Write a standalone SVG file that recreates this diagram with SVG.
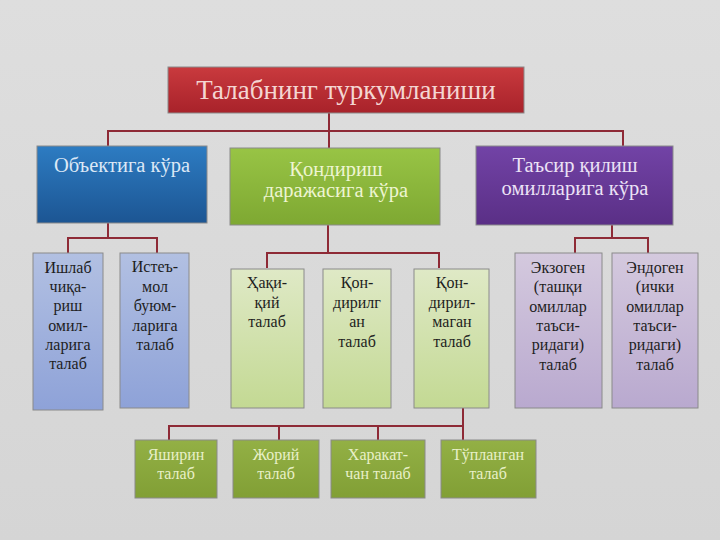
<svg xmlns="http://www.w3.org/2000/svg" width="720" height="540" viewBox="0 0 720 540">
<defs>
<linearGradient id="bg" x1="0" y1="0" x2="0" y2="1"><stop offset="0" stop-color="#dedede"/><stop offset="1" stop-color="#d5d5d5"/></linearGradient>
<linearGradient id="gRed" x1="0" y1="0" x2="0" y2="1"><stop offset="0" stop-color="#c93a3e"/><stop offset="1" stop-color="#a8222a"/></linearGradient>
<linearGradient id="gBlue" x1="0" y1="0" x2="0" y2="1"><stop offset="0" stop-color="#2d7cc2"/><stop offset="1" stop-color="#1c5593"/></linearGradient>
<linearGradient id="gGreen" x1="0" y1="0" x2="0" y2="1"><stop offset="0" stop-color="#98c445"/><stop offset="1" stop-color="#7ea832"/></linearGradient>
<linearGradient id="gPurple" x1="0" y1="0" x2="0" y2="1"><stop offset="0" stop-color="#7243a6"/><stop offset="1" stop-color="#5a2f86"/></linearGradient>
<linearGradient id="lBlue" x1="0" y1="0" x2="0" y2="1"><stop offset="0" stop-color="#b2c0e2"/><stop offset="1" stop-color="#8ea2d8"/></linearGradient>
<linearGradient id="lGreen" x1="0" y1="0" x2="0" y2="1"><stop offset="0" stop-color="#dfe9c6"/><stop offset="1" stop-color="#c3d993"/></linearGradient>
<linearGradient id="lPurple" x1="0" y1="0" x2="0" y2="1"><stop offset="0" stop-color="#d4c9de"/><stop offset="1" stop-color="#b9a9cf"/></linearGradient>
<linearGradient id="bGreen" x1="0" y1="0" x2="0" y2="1"><stop offset="0" stop-color="#93b045"/><stop offset="1" stop-color="#819f35"/></linearGradient>
</defs>
<style>
.box{stroke:#8a8a8a;stroke-width:1}
.hdr{font-family:"Liberation Serif","DejaVu Serif",serif;font-size:20.5px;text-anchor:middle}
.leaf{font-family:"Liberation Serif","DejaVu Serif",serif;font-size:16px;fill:#1e1e1e;text-anchor:middle}
.bot{font-family:"Liberation Serif","DejaVu Serif",serif;font-size:16px;fill:#e8f0c8;text-anchor:middle}
.con{fill:none;stroke:#8e2a36;stroke-width:2}
</style>
<rect width="720" height="540" fill="url(#bg)"/>

<g id="connectors">
<path class="con" d="M329 113V148M108 146V131H623V146"/>
<path class="con" d="M108 223V238M68 253V238H157V253"/>
<path class="con" d="M328 225V253M267 268V253H439V268"/>
<path class="con" d="M612 225V238M575 253V238H648V253"/>
<path class="con" d="M463 408V440M169 440V426H463M279 426V440M378 426V440"/>
</g>

<g id="title">
<rect class="box" x="168" y="67" width="356" height="46" fill="url(#gRed)"/>
<text x="346" y="99" class="hdr" font-size="27" fill="#f4d6d2" style="font-size:27px">Талабнинг туркумланиши</text>
</g>

<g id="cat-object">
<rect class="box" x="37" y="146" width="170" height="77" fill="url(#gBlue)"/>
<text x="122" y="172" class="hdr" fill="#dce8f6">Объектига кўра</text>
</g>
<g id="cat-level">
<rect class="box" x="230" y="148" width="210" height="77" fill="url(#gGreen)"/>
<text x="336" y="176" class="hdr" fill="#eef5d2">Қондириш</text>
<text x="336" y="197" class="hdr" fill="#eef5d2">даражасига кўра</text>
</g>
<g id="cat-factors">
<rect class="box" x="476" y="146" width="197" height="79" fill="url(#gPurple)"/>
<text x="575" y="172" class="hdr" fill="#ece2f6">Таъсир қилиш</text>
<text x="575" y="195" class="hdr" fill="#ece2f6">омилларига кўра</text>
</g>

<g id="leaf-production">
<rect class="box" x="33" y="253" width="70" height="157" fill="url(#lBlue)"/>
<text class="leaf" x="68"><tspan x="68" y="273">Ишлаб</tspan><tspan x="68" y="292">чиқа-</tspan><tspan x="68" y="311">риш</tspan><tspan x="68" y="331">омил-</tspan><tspan x="68" y="350">ларига</tspan><tspan x="68" y="369">талаб</tspan></text>
</g>
<g id="leaf-consumer">
<rect class="box" x="120" y="253" width="69" height="155" fill="url(#lBlue)"/>
<text class="leaf" x="155"><tspan x="155" y="272">Истеъ-</tspan><tspan x="155" y="292">мол</tspan><tspan x="155" y="311">буюм-</tspan><tspan x="155" y="331">ларига</tspan><tspan x="155" y="350">талаб</tspan></text>
</g>

<g id="leaf-real">
<rect class="box" x="231" y="269" width="73" height="139" fill="url(#lGreen)"/>
<text class="leaf" x="267"><tspan x="267" y="288">Ҳақи-</tspan><tspan x="267" y="308">қий</tspan><tspan x="267" y="327">талаб</tspan></text>
</g>
<g id="leaf-satisfied">
<rect class="box" x="323" y="269" width="68" height="139" fill="url(#lGreen)"/>
<text class="leaf" x="357"><tspan x="357" y="288">Қон-</tspan><tspan x="357" y="308">дирилг</tspan><tspan x="357" y="327">ан</tspan><tspan x="357" y="347">талаб</tspan></text>
</g>
<g id="leaf-unsatisfied">
<rect class="box" x="414" y="269" width="75" height="139" fill="url(#lGreen)"/>
<text class="leaf" x="452"><tspan x="452" y="288">Қон-</tspan><tspan x="452" y="308">дирил-</tspan><tspan x="452" y="327">маган</tspan><tspan x="452" y="347">талаб</tspan></text>
</g>

<g id="leaf-exogenous">
<rect class="box" x="515" y="253" width="87" height="155" fill="url(#lPurple)"/>
<text class="leaf" x="558"><tspan x="558" y="273">Экзоген</tspan><tspan x="558" y="292">(ташқи</tspan><tspan x="558" y="312">омиллар</tspan><tspan x="558" y="331">таъси-</tspan><tspan x="558" y="350">ридаги)</tspan><tspan x="558" y="370">талаб</tspan></text>
</g>
<g id="leaf-endogenous">
<rect class="box" x="612" y="253" width="86" height="155" fill="url(#lPurple)"/>
<text class="leaf" x="655"><tspan x="655" y="273">Эндоген</tspan><tspan x="655" y="292">(ички</tspan><tspan x="655" y="312">омиллар</tspan><tspan x="655" y="331">таъси-</tspan><tspan x="655" y="350">ридаги)</tspan><tspan x="655" y="370">талаб</tspan></text>
</g>

<g id="bot-hidden">
<rect class="box" x="135" y="440" width="82" height="58" fill="url(#bGreen)"/>
<text class="bot"><tspan x="176" y="460">Яширин</tspan><tspan x="176" y="479">талаб</tspan></text>
</g>
<g id="bot-current">
<rect class="box" x="233" y="440" width="86" height="58" fill="url(#bGreen)"/>
<text class="bot"><tspan x="276" y="460">Жорий</tspan><tspan x="276" y="479">талаб</tspan></text>
</g>
<g id="bot-mobile">
<rect class="box" x="331" y="440" width="94" height="58" fill="url(#bGreen)"/>
<text class="bot"><tspan x="378" y="460">Харакат-</tspan><tspan x="378" y="479">чан талаб</tspan></text>
</g>
<g id="bot-accumulated">
<rect class="box" x="441" y="440" width="95" height="58" fill="url(#bGreen)"/>
<text class="bot"><tspan x="488" y="460">Тўпланган</tspan><tspan x="488" y="479">талаб</tspan></text>
</g>
</svg>
